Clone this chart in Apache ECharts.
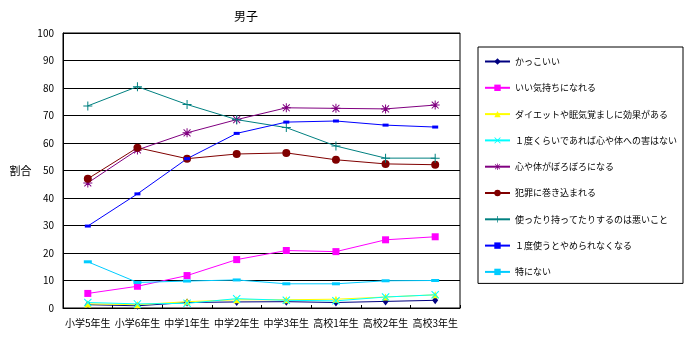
<!DOCTYPE html>
<html>
<head>
<meta charset="utf-8">
<script src="https://cdn.jsdelivr.net/npm/echarts@6/dist/echarts.min.js"></script>
<style>
  html, body { margin: 0; padding: 0; background: #fff; }
  #chart { width: 700px; height: 340px; }
</style>
</head>
<body>
<div id="chart"></div>
<script>
// School grades on the x axis
const grades = ['小学5年生', '小学6年生', '中学1年生', '中学2年生', '中学3年生', '高校1年生', '高校2年生', '高校3年生'];

// Percent of respondents per answer
const kakkoii      = [1.2, 0.8, 2.0, 2.2, 2.3, 2.0, 2.4, 2.8];
const iiKimochi    = [5.3, 7.9, 11.8, 17.6, 20.9, 20.5, 24.8, 25.9];
const diet         = [1.5, 1.2, 2.3, 3.0, 3.0, 3.2, 4.0, 4.8];
const ichidoNara   = [2.0, 1.5, 1.7, 3.4, 2.8, 2.6, 4.0, 4.8];
const boroboro     = [45.5, 57.5, 63.7, 68.5, 72.8, 72.6, 72.4, 73.8];
const hanzai       = [47.0, 58.3, 54.3, 56.0, 56.4, 53.9, 52.4, 52.1];
const warui        = [73.5, 80.5, 74.0, 68.5, 65.6, 58.9, 54.5, 54.5];
const yamerarenai  = [29.8, 41.5, 54.3, 63.5, 67.6, 68.0, 66.5, 65.8];
const tokuniNai    = [16.8, 9.3, 9.8, 10.2, 8.8, 8.8, 9.9, 10.0];

const seriesNames = [
  'かっこいい',
  'いい気持ちになれる',
  'ダイエットや眠気覚ましに効果がある',
  '１度くらいであれば心や体への害はない',
  '心や体がぼろぼろになる',
  '犯罪に巻き込まれる',
  '使ったり持ってたりするのは悪いこと',
  '１度使うとやめられなくなる',
  '特にない'
];
const seriesData = [kakkoii, iiKimochi, diet, ichidoNara, boroboro, hanzai, warui, yamerarenai, tokuniNai];

// Marker shapes
const plusPath = 'path://M4,0h1v4h4v1h-4v4h-1v-4h-4v-1h4z';
const starPath = 'path://M4,0h1v4h4v1h-4v4h-1v-4h-4v-1h4z M0.7,1.4L1.4,0.7L4.5,3.8L7.6,0.7L8.3,1.4L5.2,4.5L8.3,7.6L7.6,8.3L4.5,5.2L1.4,8.3L0.7,7.6L3.8,4.5z';
const xPath = 'path://M0.7,1.4L1.4,0.7L4.5,3.8L7.6,0.7L8.3,1.4L5.2,4.5L8.3,7.6L7.6,8.3L4.5,5.2L1.4,8.3L0.7,7.6L3.8,4.5z';

const styles = [
  { color: '#000080', symbol: 'diamond', size: [6, 8] },
  { color: '#FF00FF', symbol: 'rect', size: 7 },
  { color: '#FFFF00', symbol: 'triangle', size: 7 },
  { color: '#00FFFF', symbol: xPath, size: 8 },
  { color: '#800080', symbol: starPath, size: 9 },
  { color: '#800000', symbol: 'circle', size: 8 },
  { color: '#008080', symbol: plusPath, size: 9 },
  { color: '#0000FF', symbol: 'rect', size: [6, 3] },
  { color: '#00CCFF', symbol: 'rect', size: [8, 3] }
];

const chart = echarts.init(document.getElementById('chart'), null, { renderer: 'canvas' });

const font = '"Noto Sans CJK JP", "Noto Sans", sans-serif';

chart.setOption({
  animation: false,
  backgroundColor: '#ffffff',
  textStyle: { fontFamily: font, color: '#000' },
  title: {
    text: '男子',
    left: 241, top: 5,
    textAlign: 'center',
    textStyle: { fontSize: 12, fontWeight: 'normal', color: '#000', fontFamily: font }
  },
  grid: {
    left: 63, right: 240, top: 33, bottom: 32,
    show: true, borderColor: '#000', borderWidth: 1, backgroundColor: '#fff'
  },
  legend: {
    orient: 'vertical',
    left: 478, top: 47,
    width: 209, height: 235,
    padding: [10, 6, 7, 6],
    borderColor: '#000', borderWidth: 1,
    itemWidth: 25, itemHeight: 8, itemGap: 17.3,
    textStyle: { fontSize: 9, color: '#000', fontFamily: font },
    data: seriesNames
  },
  xAxis: {
    type: 'category',
    data: grades,
    boundaryGap: true,
    axisLine: { lineStyle: { color: '#000', width: 1 } },
    axisTick: { show: true, inside: true, length: 3, lineStyle: { color: '#000' } },
    axisLabel: { fontSize: 10, color: '#000', margin: 10, interval: 0, fontFamily: font }
  },
  yAxis: {
    type: 'value',
    min: 0, max: 100, interval: 10,
    name: '割合',
    nameLocation: 'middle',
    nameRotate: 0,
    nameGap: 30,
    nameTextStyle: { fontSize: 11, color: '#000', fontFamily: font },
    axisLine: { show: true, lineStyle: { color: '#000' } },
    axisTick: { show: false },
    splitLine: { show: true, lineStyle: { color: '#000', width: 1 } },
    axisLabel: { fontSize: 10, color: '#000', margin: 9, fontFamily: font }
  },
  series: seriesNames.map((name, i) => ({
    name: name,
    type: 'line',
    data: seriesData[i],
    symbol: styles[i].symbol,
    symbolSize: styles[i].size,
    showAllSymbol: true,
    lineStyle: { color: styles[i].color, width: 1 },
    itemStyle: { color: styles[i].color, borderWidth: 0 },
    emphasis: { disabled: true }
  }))
});
</script>
</body>
</html>
